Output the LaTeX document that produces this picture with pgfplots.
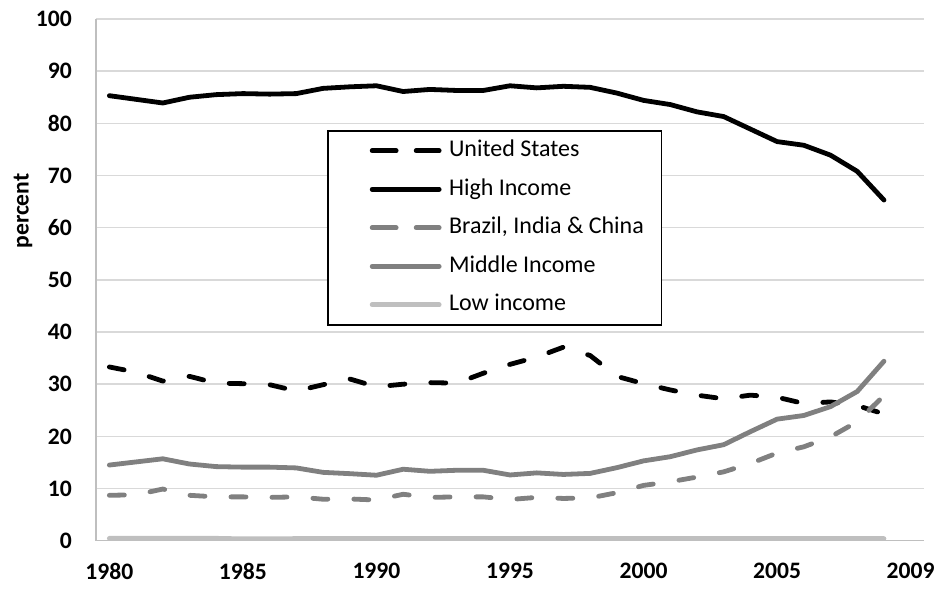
\documentclass[border=0pt]{standalone}
\usepackage{fontspec}
\setmainfont{Carlito}
\usepackage{pgfplots}
\pgfplotsset{compat=1.18}
\usepackage{pgfplotstable}
\definecolor{midgray}{HTML}{808080}
\definecolor{lowgray}{HTML}{BFBFBF}
\definecolor{gridgray}{HTML}{D9D9D9}
\definecolor{axisgray}{HTML}{BFBFBF}

\pgfplotstableread{
year us high bic mid low
1980 33.3 85.3 8.7 14.5 0.45
1981 32.3 84.6 8.8 15.1 0.45
1982 30.6 83.9 9.9 15.7 0.45
1983 31.5 85.0 8.7 14.7 0.45
1984 30.2 85.5 8.4 14.2 0.45
1985 30.1 85.7 8.4 14.1 0.35
1986 29.9 85.6 8.3 14.1 0.35
1987 28.7 85.7 8.4 13.95 0.4
1988 29.9 86.7 7.95 13.1 0.4
1989 31.0 87.0 8.0 12.85 0.4
1990 29.5 87.2 7.8 12.55 0.4
1991 30.0 86.1 8.9 13.7 0.4
1992 30.3 86.5 8.3 13.3 0.4
1993 30.2 86.3 8.4 13.5 0.4
1994 32.1 86.3 8.4 13.5 0.4
1995 33.8 87.2 7.9 12.6 0.4
1996 35.2 86.8 8.3 13.0 0.4
1997 37.1 87.1 8.1 12.7 0.4
1998 35.5 86.9 8.2 12.9 0.4
1999 31.5 85.8 9.2 14.0 0.4
2000 30.1 84.4 10.6 15.3 0.4
2001 28.9 83.6 11.3 16.1 0.4
2002 27.9 82.2 12.2 17.4 0.4
2003 27.2 81.3 13.2 18.4 0.4
2004 27.9 78.9 14.8 20.9 0.4
2005 27.5 76.5 16.8 23.3 0.4
2006 26.3 75.8 18.0 24.0 0.4
2007 26.6 73.9 19.9 25.7 0.4
2008 25.9 70.8 22.8 28.6 0.4
2009 24.3 65.3 27.8 34.4 0.4
}\datatable

\begin{document}
\begin{tikzpicture}
\begin{axis}[
  scale only axis,
  width=414pt, height=260.85pt,
  at={(0,0)}, anchor=south west,
  xmin=1979.5, xmax=2010.5,
  ymin=0, ymax=100,
  xtick={1980,1985,1990,1995,2000,2005,2010},
  xticklabels={1980,1985,1990,1995,2000,2005,2009},
  ytick={0,10,...,100},
  major tick length=0pt,
  axis x line*=bottom,
  axis y line*=left,
  axis line style={draw=axisgray, line width=0.75pt, -},
  ymajorgrids,
  grid style={draw=gridgray, line width=0.75pt},
  /pgf/number format/assume math mode=true,
  tick label style={font=\fontsize{11.8}{13}\selectfont\bfseries},
  xticklabel style={yshift=-7.7pt},
  yticklabel style={xshift=-8.6pt},
  ylabel={percent},
  every axis y label/.style={at={(axis description cs:-0.088,0.632)}, rotate=90, anchor=center, font=\fontsize{11.8}{13}\selectfont\bfseries},
  legend cell align=left,
  legend image code/.code={\path (0pt,0pt); \draw[#1] (13.5pt,0pt) -- (47pt,0pt); \path (49.5pt,0pt);},
  legend style={
    at={(axis description cs:0.279,0.787)}, anchor=north west,
    draw=black, line width=0.75pt, fill=white,
    font=\fontsize{12}{13}\selectfont,
    inner xsep=7.5pt, inner ysep=3.75pt,
    row sep=6.75pt,
    nodes={inner sep=1.25pt, text height=8pt, text depth=2pt},
  },
  every axis plot/.append style={line width=2.4pt, line cap=round, line join=round},
]
\addplot[black, dash pattern=on 7.5pt off 13pt, forget plot] table[x=year, y=us] {\datatable};
\addplot[black, forget plot] table[x=year, y=high] {\datatable};
\addplot[midgray, dash pattern=on 7.5pt off 13pt, forget plot] table[x=year, y=bic] {\datatable};
\addplot[midgray, forget plot] table[x=year, y=mid] {\datatable};
\addplot[lowgray, forget plot] table[x=year, y=low] {\datatable};

\addlegendimage{black, line width=2.4pt, line cap=round, dash pattern=on 12pt off 10pt}
\addlegendentry{United States}
\addlegendimage{black, line width=2.4pt, line cap=round}
\addlegendentry{High Income}
\addlegendimage{midgray, line width=2.4pt, line cap=round, dash pattern=on 12pt off 10pt}
\addlegendentry{Brazil, India \& China}
\addlegendimage{midgray, line width=2.4pt, line cap=round}
\addlegendentry{Middle Income}
\addlegendimage{lowgray, line width=2.4pt, line cap=round}
\addlegendentry{Low income}
\end{axis}
\pgfresetboundingbox
\path (-48pt,-24.15pt) rectangle (420.5pt,270.35pt);
\end{tikzpicture}
\end{document}
